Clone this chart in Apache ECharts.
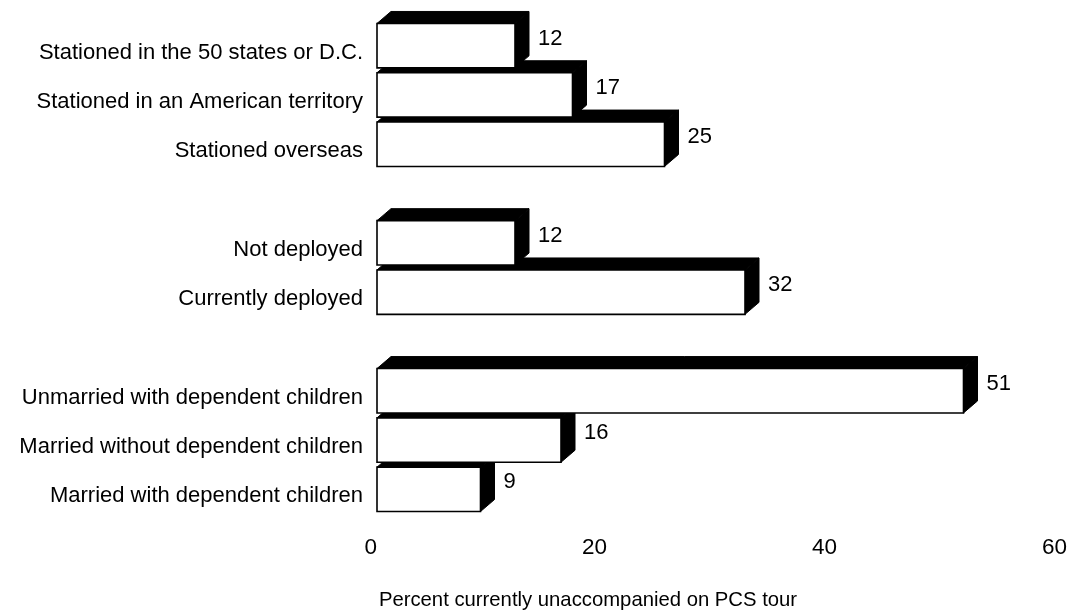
<!DOCTYPE html>
<html>
<head>
<meta charset="utf-8">
<script src="https://cdn.jsdelivr.net/npm/echarts@6/dist/echarts.min.js"></script>
<style>
  html, body { margin: 0; padding: 0; background: #fff; }
  #chart { width: 1075px; height: 615px; }
</style>
</head>
<body>
<div id="chart"></div>
<script>
// ---- data ----
const locationLabels = ['Stationed in the 50 states or D.C.', 'Stationed in an American territory', 'Stationed overseas'];
const locationValues = [12, 17, 25];
const deploymentLabels = ['Not deployed', 'Currently deployed'];
const deploymentValues = [12, 32];
const familyLabels = ['Unmarried with dependent children', 'Married without dependent children', 'Married with dependent children'];
const familyValues = [51, 16, 9];
const xTicks = [0, 20, 40, 60];
const axisTitle = 'Percent currently unaccompanied on PCS tour';

// ---- build categories (blank rows separate groups) ----
const groups = [
  [locationLabels, locationValues],
  [deploymentLabels, deploymentValues],
  [familyLabels, familyValues]
];
const categories = [];
const seriesData = [];
groups.forEach(function (g, gi) {
  if (gi > 0) categories.push(' '.repeat(gi));
  g[0].forEach(function (lab, i) {
    seriesData.push([g[1][i], categories.length]);
    categories.push(lab);
  });
});

const FONT = "'Liberation Sans', Arial, Helvetica, sans-serif";
const DX = 14, DY = 12;

function renderItem(params, api) {
  const v = api.value(0);
  const yi = api.value(1);
  const p0 = api.coord([0, yi]);
  const p1 = api.coord([v, yi]);
  const band = api.size([0, 1])[1];
  const h = band * 0.9;
  const x0 = p0[0], x1 = p1[0];
  const yTop = p0[1] - h / 2, yBot = p0[1] + h / 2;
  const zb = (100 - yi) * 4;
  return {
    type: 'group',
    children: [
      {
        type: 'polygon', z2: zb,
        shape: { points: [[x0, yTop], [x0 + DX, yTop - DY], [x1 + DX, yTop - DY], [x1, yTop]] },
        style: { fill: '#000', stroke: '#000', lineWidth: 1 }
      },
      {
        type: 'polygon', z2: zb + 1,
        shape: { points: [[x1, yTop], [x1 + DX, yTop - DY], [x1 + DX, yBot - DY], [x1, yBot]] },
        style: { fill: '#000', stroke: '#000', lineWidth: 1 }
      },
      {
        type: 'rect', z2: zb + 2,
        shape: { x: x0, y: yTop, width: x1 - x0, height: h },
        style: { fill: '#fff', stroke: '#000', lineWidth: 1.6 }
      },
      {
        type: 'text', z2: zb + 3,
        x: x1 + DX + 9, y: p0[1] - 7,
        style: {
          text: String(v), fill: '#000', font: '22px ' + FONT,
          align: 'left', verticalAlign: 'middle'
        }
      }
    ]
  };
}

const chart = echarts.init(document.getElementById('chart'), null, { renderer: 'canvas' });
chart.setOption({
  animation: false,
  backgroundColor: '#fff',
  textStyle: { fontFamily: FONT, color: '#000' },
  grid: { left: 377, right: 8, top: 21, bottom: 94, containLabel: false },
  xAxis: {
    type: 'value', min: xTicks[0], max: xTicks[xTicks.length - 1], interval: 20,
    splitLine: { show: false }, axisLine: { show: false }, axisTick: { show: false },
    axisLabel: { align: 'right', margin: 22, fontSize: 22.5, color: '#000', fontFamily: FONT },
    name: axisTitle, nameLocation: 'middle', nameGap: 76,
    nameTextStyle: { fontSize: 20.3, color: '#000', fontFamily: FONT, padding: [0, 268, 0, 0] }
  },
  yAxis: {
    type: 'category', data: categories, inverse: true,
    axisLine: { show: false }, axisTick: { show: false }, splitLine: { show: false },
    axisLabel: {
      margin: 14, fontSize: 22, color: '#000', fontFamily: FONT,
      verticalAlign: 'top', lineHeight: 14
    }
  },
  series: [{
    type: 'custom',
    clip: false,
    renderItem: renderItem,
    encode: { x: 0, y: 1 },
    data: seriesData
  }]
});
</script>
</body>
</html>
